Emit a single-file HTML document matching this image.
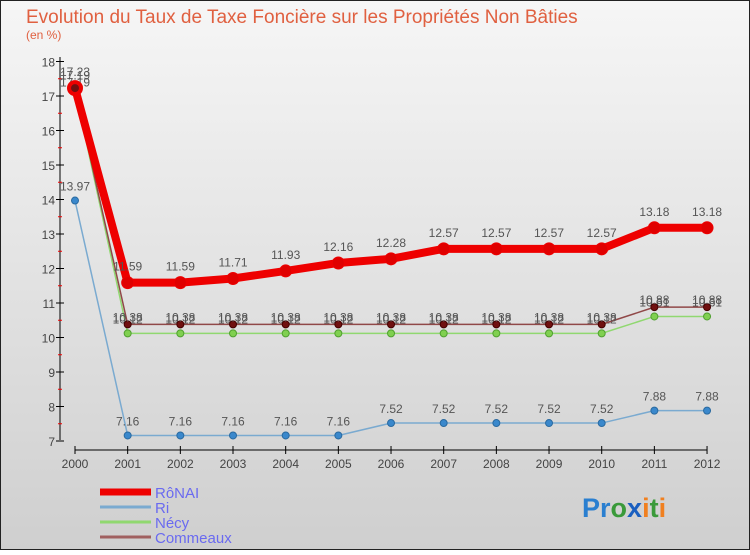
<!DOCTYPE html>
<html><head><meta charset="utf-8"><style>
body{margin:0;width:750px;height:550px;overflow:hidden;font-family:"Liberation Sans",sans-serif}
</style></head><body>
<svg id="c" width="750" height="550" xmlns="http://www.w3.org/2000/svg">
<defs><linearGradient id="bg" x1="0" y1="0" x2="0" y2="1"><stop offset="0" stop-color="#f6f6f6"/><stop offset="1" stop-color="#cfcfcf"/></linearGradient></defs>
<rect x="0.5" y="0.5" width="749" height="549" fill="url(#bg)" stroke="#222"/>
<text x="26" y="23" font-size="19" fill="#e06040">Evolution du Taux de Taxe Foncière sur les Propriétés Non Bâties</text>
<text x="26" y="39" font-size="12" fill="#e06040">(en %)</text>
<g id="axes"></g><g id="series"></g><g id="legend"></g>
<text x="582" y="517" font-size="27" font-weight="bold"><tspan fill="#2a7fd0">Pr</tspan><tspan fill="#3a9a3a">o</tspan><tspan fill="#1a5fc0">x</tspan><tspan fill="#f08020">i</tspan><tspan fill="#3a9a3a">t</tspan><tspan fill="#f08020">i</tspan></text>
</svg>
<script>
const years=[2000,2001,2002,2003,2004,2005,2006,2007,2008,2009,2010,2011,2012];
const yTicks=[7,8,9,10,11,12,13,14,15,16,17,18];
const ronai=[17.23,11.59,11.59,11.71,11.93,12.16,12.28,12.57,12.57,12.57,12.57,13.18,13.18];
const ri=[13.97,7.16,7.16,7.16,7.16,7.16,7.52,7.52,7.52,7.52,7.52,7.88,7.88];
const necy=[17.19,10.12,10.12,10.12,10.12,10.12,10.12,10.12,10.12,10.12,10.12,10.61,10.61];
const commeaux=[17.19,10.38,10.38,10.38,10.38,10.38,10.38,10.38,10.38,10.38,10.38,10.88,10.88];
const NS="http://www.w3.org/2000/svg";
const X=i=>75+i*52.67, Y=v=>61.5+(18-v)*34.5;
function mk(p,t,a){const e=document.createElementNS(NS,t);for(const k in a)e.setAttribute(k,a[k]);p.appendChild(e);return e;}
const ax=document.getElementById('axes');
let l=mk(ax,'line',{x1:60,y1:57,x2:60,y2:440,stroke:'#000'});


l=mk(ax,'line',{x1:75,y1:450,x2:707,y2:450,stroke:'#000'});


yTicks.forEach(v=>{mk(ax,'line',{x1:56,y1:Y(v),x2:64,y2:Y(v),stroke:'#000'});
 if(v<18)mk(ax,'line',{x1:58,y1:Y(v+0.5),x2:62,y2:Y(v+0.5),stroke:'#e00'});
 const t=mk(ax,'text',{x:55,y:Y(v)+5,'font-size':12,fill:'#444','text-anchor':'end'});t.textContent=v;
 
 });
years.forEach((yr,i)=>{mk(ax,'line',{x1:X(i),y1:446,x2:X(i),y2:454,stroke:'#000'});
 const t=mk(ax,'text',{x:X(i),y:468,'font-size':12,fill:'#444','text-anchor':'middle'});t.textContent=yr;
 
 });
const sg=document.getElementById('series');
function series(name,data,col,w,dot,dotStroke,r,labelDy){
 const g=mk(sg,'g',{});
 
 
 mk(g,'polyline',{points:data.map((v,i)=>X(i)+','+Y(v)).join(' '),fill:'none',stroke:col,'stroke-width':w,'stroke-linejoin':'round'});
 data.forEach((v,i)=>{const c=mk(g,'circle',{cx:X(i),cy:Y(v),r:r,fill:(i===0&&name==='ronai')?'#701010':dot,stroke:dotStroke,'stroke-width':(i===0&&name==='ronai')?4:1});
  
  
  const t=mk(g,'text',{x:X(i),y:Y(v)+labelDy,'font-size':12,fill:'#555','text-anchor':'middle'});t.textContent=v.toFixed(2);});
}
series('ri',ri,'#7aaad0',1.5,'#3a88cc','#2a6aa0',3.5,-10);
series('necy',necy,'#90d870',1.5,'#80d050','#50a030',3.5,-10);
series('commeaux',commeaux,'#904848',1.5,'#701010','#400',3.5,-3);
series('ronai',ronai,'#ee0000',8,'#e00000','#e00',6,-12);
const lg=document.getElementById('legend');
[['RôNAI','#ee0000',7],['Ri','#7aaad0',3],['Nécy','#90d870',3],['Commeaux','#a06060',3]].forEach((d,i)=>{
 const y=492+i*15;
 mk(lg,'line',{x1:100,y1:y,x2:151,y2:y,stroke:d[1],'stroke-width':d[2]});
 const t=mk(lg,'text',{x:155,y:y+6,'font-size':15,fill:'#6a6af0'});t.textContent=d[0];
 
 
});
</script>
</body></html>
